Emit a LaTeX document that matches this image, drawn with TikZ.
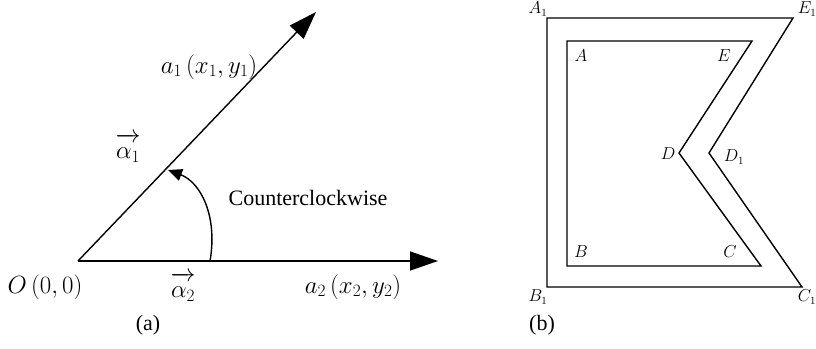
\documentclass[tikz,border=0pt]{standalone}
\usepackage{fontspec}
\setmainfont{Liberation Serif}
\usetikzlibrary{arrows.meta}
\begin{document}
\begin{tikzpicture}[x=1pt,y=-1pt,
  ln/.style={line width=1.4pt},
  bigarr/.style={ln,-{Triangle[length=28pt,width=19pt]}},
  smallarr/.style={ln,-{Triangle[length=14pt,width=12pt]}},
  lab/.style={font=\fontsize{22}{25}\selectfont},
  mlab/.style={font=\fontsize{23}{26}\selectfont},
  slab/.style={font=\fontsize{16}{18}\selectfont}]
\useasboundingbox (0,0) rectangle (816,348);
% panel (a)
\coordinate (O) at (78,261);
\coordinate (T1) at (316,12);
\coordinate (T2) at (438,261);
\coordinate (S) at (210,261);
\coordinate (E) at (168,170);
\draw[bigarr] (O) -- (T1);
\draw[bigarr] (O) -- (T2);
\draw[smallarr] (S) .. controls (218,215) and (200,182) .. (E);
\node[mlab] (a1) at (209,67) {$a_1\left(x_1,y_1\right)$};
\node[mlab] (al1) at (128,148) {$\overrightarrow{\alpha_1\vphantom{l}}$};
\node[lab] (ccw) at (308,198) {Counterclockwise};
\node[mlab] (o) at (45,287) {$O\left(0,0\right)$};
\node[mlab] (al2) at (183,287) {$\overrightarrow{\alpha_2\vphantom{l}}$};
\node[mlab] (a2) at (353,287) {$a_2\left(x_2,y_2\right)$};
\node[lab] (capa) at (148,325) {(a)};
% panel (b)
\coordinate (A1) at (547,18);
\coordinate (E1) at (793,18);
\coordinate (D1) at (709,153);
\coordinate (C1) at (802,287);
\coordinate (B1) at (547,287);
\coordinate (A) at (567,41);
\coordinate (Ep) at (752,41);
\coordinate (D) at (679,153);
\coordinate (C) at (761,266);
\coordinate (B) at (567,266);
\draw[ln] (A1) -- (E1) -- (D1) -- (C1) -- (B1) -- cycle;
\draw[ln] (A) -- (Ep) -- (D) -- (C) -- (B) -- cycle;
\node[slab] (lA1) at (538,9) {$A_1$};
\node[slab] (lE1) at (807,9) {$E_1$};
\node[slab] (lA) at (581,56) {$A$};
\node[slab] (lE) at (724,56) {$E$};
\node[slab] (lD) at (668,154) {$D$};
\node[slab] (lD1) at (734,157) {$D_1$};
\node[slab] (lB) at (581,252) {$B$};
\node[slab] (lC) at (730,252) {$C$};
\node[slab] (lB1) at (538,297) {$B_1$};
\node[slab] (lC1) at (807,297) {$C_1$};
\node[lab] (capb) at (542,325) {(b)};
\end{tikzpicture}
\end{document}
